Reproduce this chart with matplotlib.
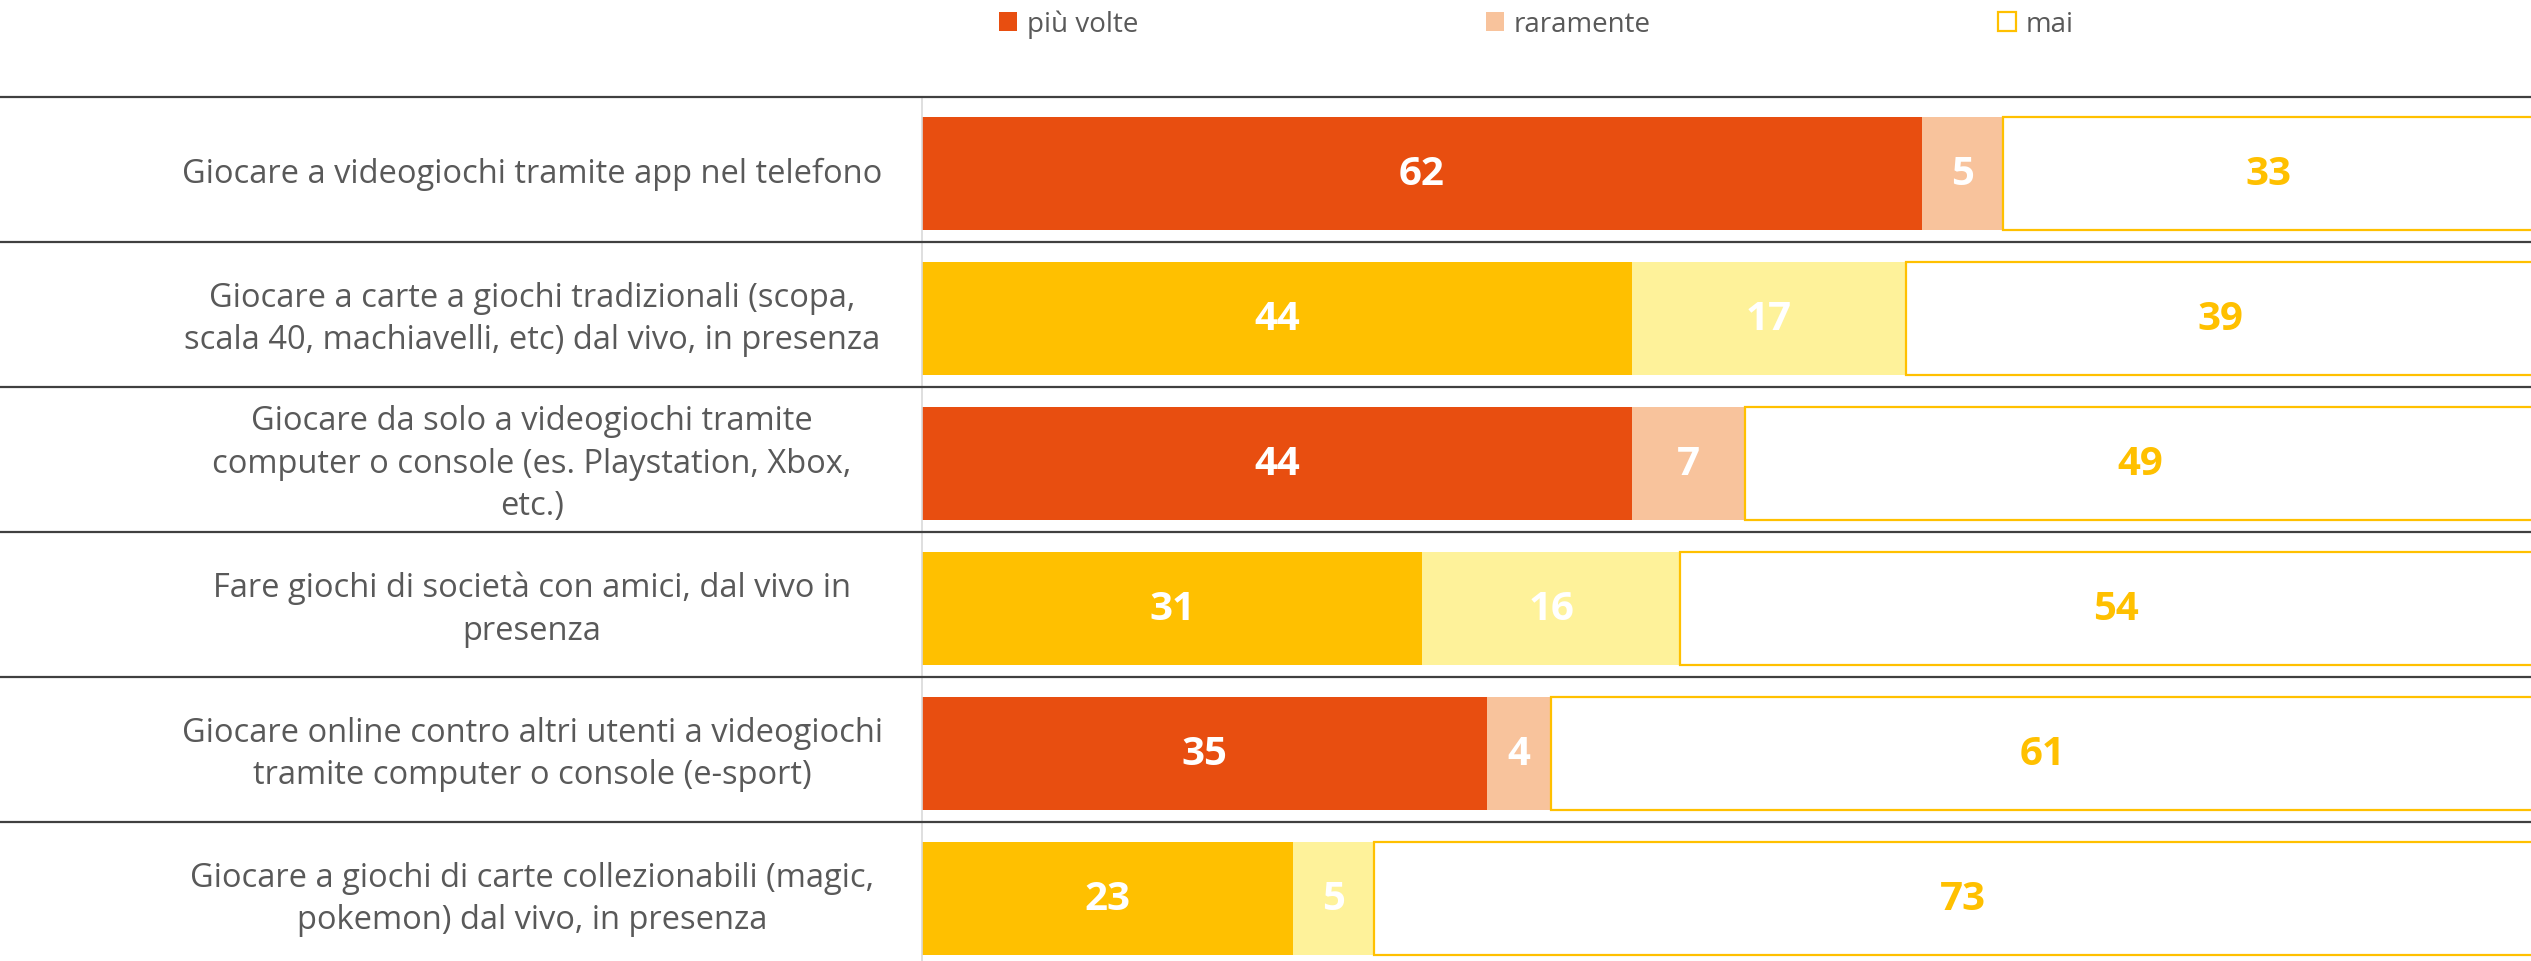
import matplotlib
matplotlib.use("Agg")
import matplotlib.pyplot as plt
from matplotlib.patches import Patch
import numpy as np

plt.rcParams['font.family'] = ['Open Sans', 'DejaVu Sans']

categories = [
    "Giocare a videogiochi tramite app nel telefono",
    "Giocare a carte a giochi tradizionali (scopa,\nscala 40, machiavelli, etc) dal vivo, in presenza",
    "Giocare da solo a videogiochi tramite\ncomputer o console (es. Playstation, Xbox,\netc.)",
    "Fare giochi di società con amici, dal vivo in\npresenza",
    "Giocare online contro altri utenti a videogiochi\ntramite computer o console (e-sport)",
    "Giocare a giochi di carte collezionabili (magic,\npokemon) dal vivo, in presenza",
]
piu_volte = [62, 44, 44, 31, 35, 23]
raramente = [5, 17, 7, 16, 4, 5]
mai = [33, 39, 49, 54, 61, 73]
series_names = ["più volte", "raramente", "mai"]

# alternating colour schemes: orange rows and yellow rows
orange = "#E84E10"
peach = "#F8C39C"
gold = "#FFC000"
pale = "#FEF29A"
label_grey = "#595959"

W, H = 2531, 962
fig = plt.figure(figsize=(W / 100, H / 100), dpi=100)

x0, xw = 922, 1613
ytop = 97.5
ax = fig.add_axes([x0 / W, 0, xw / W, 1 - ytop / H])

y = np.arange(len(categories))
bh = 0.78
c1 = [orange if i % 2 == 0 else gold for i in range(len(y))]
c2 = [peach if i % 2 == 0 else pale for i in range(len(y))]

b1 = ax.barh(y, piu_volte, height=bh, color=c1, edgecolor='none')
left2 = np.array(piu_volte)
b2 = ax.barh(y, raramente, left=left2, height=bh, color=c2, edgecolor='none')
left3 = left2 + np.array(raramente)
b3 = ax.barh(y, mai, left=left3, height=bh, color='white', edgecolor=gold, linewidth=1.6)

for bars, vals, col in [(b1, piu_volte, 'white'), (b2, raramente, 'white'), (b3, mai, gold)]:
    for r, v in zip(bars, vals):
        ax.text(r.get_x() + r.get_width() / 2, r.get_y() + r.get_height() / 2, str(v),
                ha='center', va='center', color=col, fontsize=29, fontweight='bold')

row_px = 145.1
off = (174.2 - ytop) / row_px
ax.set_xlim(0, 100)
ax.set_ylim((H - 174.2) / row_px, -off)

# row separators across labels and bars
for k in range(len(categories)):
    ax.axhline(k - off, xmin=-x0 / xw, xmax=1, color="#404040", lw=1.6, clip_on=False, zorder=5)

# category labels, centered in the left area
lab_x = (532 - x0) / xw
for yi, txt in zip(y, categories):
    ax.text(lab_x, yi, txt, transform=ax.get_yaxis_transform(), ha='center', va='center',
            multialignment='center', fontsize=23.5, color=label_grey, linespacing=1.38)

for s in ['top', 'right', 'bottom']:
    ax.spines[s].set_visible(False)
ax.spines['left'].set_color("#D9D9D9")
ax.spines['left'].set_linewidth(1.2)
ax.set_xticks([])
ax.set_yticks([])

handles = [Patch(facecolor=orange, edgecolor='none'),
           Patch(facecolor=peach, edgecolor='none'),
           Patch(facecolor='white', edgecolor=gold, linewidth=1.6)]
fig.legend(handles, series_names, loc='center left', bbox_to_anchor=(999 / W, 1 - 25 / H),
           ncol=3, frameon=False, fontsize=20, labelcolor=label_grey,
           handlelength=0.65, handleheight=0.65, handletextpad=0.36,
           columnspacing=12.5, borderpad=0, borderaxespad=0)

fig.savefig("out.png", dpi=100)
